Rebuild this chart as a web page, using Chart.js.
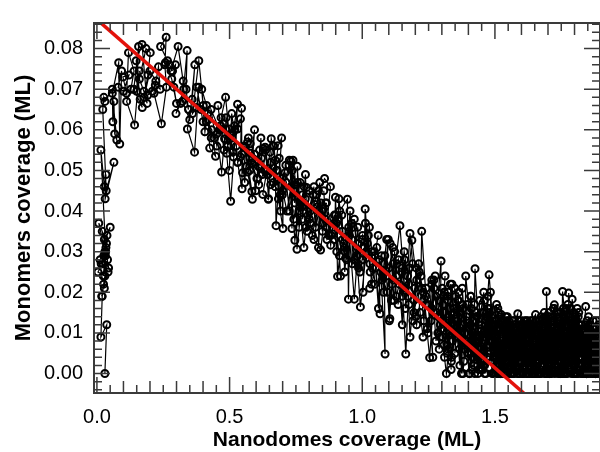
<!DOCTYPE html>
<html><head><meta charset="utf-8">
<script src="https://cdn.jsdelivr.net/npm/chart.js@4.4.1/dist/chart.umd.min.js"></script>
<style>html,body{margin:0;padding:0;background:#fff;overflow:hidden;width:600px;height:452px}canvas{display:block}</style>
</head><body>
<canvas id="c" width="606" height="452"></canvas>
<script>
// Nanodomes coverage (x) and Monomers coverage (y), in ML in segments
const nanoRamp=[0.030,0.037,0.015,0.020,0.025,0.018,0.030,0.004,0.022,0.042,
0.012,0.030,0.007,0.020,0.034,0.026,0.044,0.028,0.050,0.038,
0.024,0.032,0.016,0.036,0.028,0.040,0.033,0.015,0.028,0.034,
0.031,0.064,0.035,0.022,0.026,0.030,0.058,0.060,0.064,0.067];
const monoRamp=[0.000,0.012,0.009,0.019,0.022,0.019,0.024,0.025,0.027,0.025,
0.028,0.030,0.037,0.035,0.031,0.029,0.026,0.033,0.036,0.034,
0.024,0.029,0.027,0.032,0.021,0.028,0.030,0.055,0.046,0.049,
0.043,0.052,0.045,0.065,0.068,0.067,0.070,0.062,0.067,0.059];
const nanoHump=[0.075,0.058,0.082,0.086,0.093,0.080,0.100,0.121,0.098,0.112,
0.119,0.140,0.128,0.112,0.142,0.160,0.150,0.157,0.139,0.171,
0.163,0.148,0.170,0.189,0.177,0.160,0.185,0.201,0.192,0.178,
0.200,0.222,0.209,0.191,0.220,0.238,0.232,0.215,0.243,0.262,
0.256,0.261,0.240,0.266,0.285,0.274,0.258,0.282,0.300,0.290,
0.296,0.279,0.306,0.325,0.316,0.298,0.327,0.345,0.336,0.340,
0.322,0.350,0.369,0.359,0.341,0.368,0.384,0.376,0.360,0.384,
0.401,0.392,0.376,0.400,0.417,0.407,0.395,0.413,0.431,0.420];
const monoHump=[0.0575,0.069,0.0765,0.0565,0.0745,0.0705,0.0695,0.0735,0.073,0.069,
0.079,0.0745,0.070,0.067,0.0612,0.0745,0.0695,0.0805,0.070,0.0655,
0.0675,0.077,0.081,0.0665,0.0695,0.0725,0.080,0.079,0.0735,0.068,
0.0745,0.072,0.0695,0.0685,0.071,0.070,0.0755,0.069,0.0615,0.0705,
0.076,0.0828,0.0805,0.077,0.0745,0.076,0.0765,0.0725,0.0665,0.0705,
0.076,0.0745,0.0805,0.072,0.0665,0.064,0.070,0.065,0.070,0.0795,
0.067,0.0625,0.076,0.0675,0.0602,0.0545,0.0705,0.0655,0.064,0.077,
0.066,0.065,0.0705,0.062,0.064,0.0595,0.070,0.066,0.058,0.0625];
const nanoSlopeA=[0.425,0.447,0.433,0.412,0.442,0.466,0.452,0.430,0.462,0.481,
0.470,0.452,0.478,0.500,0.485,0.468,0.493,0.515,0.500,0.489,
0.504,0.530,0.510,0.492,0.520,0.541,0.530,0.512,0.541,0.545,
0.547,0.530,0.556,0.578,0.564,0.549,0.571,0.594,0.578,0.560,
0.584,0.586,0.568,0.594,0.615,0.603,0.585,0.610,0.632,0.620,
0.627,0.608,0.634,0.655,0.642,0.646,0.625,0.653,0.657,0.680,
0.664,0.645,0.672,0.675,0.696,0.683,0.665,0.691,0.712,0.698,
0.701,0.684,0.709,0.731,0.716,0.700,0.724,0.745,0.731,0.735];
const monoSlopeA=[0.0555,0.0535,0.060,0.062,0.058,0.061,0.056,0.065,0.060,0.0578,
0.0496,0.059,0.0615,0.0578,0.068,0.063,0.056,0.0533,0.0602,0.0542,
0.0424,0.0663,0.058,0.056,0.060,0.0627,0.0602,0.0545,0.0533,0.0653,
0.0455,0.052,0.056,0.0542,0.051,0.0494,0.058,0.054,0.0566,0.0557,
0.0448,0.0429,0.0496,0.052,0.0506,0.048,0.0518,0.0465,0.050,0.053,
0.0554,0.051,0.0557,0.0465,0.049,0.0429,0.0441,0.0545,0.0578,0.050,
0.0561,0.049,0.0525,0.0364,0.058,0.0561,0.047,0.044,0.0513,0.048,
0.0357,0.043,0.0494,0.046,0.040,0.045,0.0513,0.042,0.0523,0.0357];
const nanoSlopeB=[0.739,0.762,0.746,0.725,0.750,0.754,0.775,0.742,0.766,0.790,
0.773,0.756,0.780,0.801,0.788,0.770,0.796,0.818,0.804,0.785,
0.812,0.830,0.820,0.801,0.828,0.850,0.836,0.818,0.843,0.865,
0.851,0.835,0.858,0.880,0.866,0.848,0.874,0.895,0.881,0.862,
0.889,0.910,0.896,0.899,0.903,0.907,0.925,0.914,0.918,0.900,
0.926,0.965,0.934,0.937,0.915,0.944,0.948,0.952,0.935,0.960,
0.963,0.985,0.970,0.950,0.978,1.000,0.986,0.970,0.993,1.015,
1.001,0.984,1.008,1.011,1.030,1.019,1.002,1.027,1.048,1.035];
const monoSlopeB=[0.0525,0.040,0.0328,0.0525,0.0465,0.0306,0.044,0.038,0.047,0.0458,
0.041,0.047,0.031,0.045,0.036,0.042,0.039,0.046,0.037,0.043,
0.034,0.041,0.0417,0.038,0.044,0.035,0.040,0.033,0.0304,0.042,
0.037,0.045,0.048,0.046,0.036,0.040,0.034,0.039,0.0316,0.042,
0.036,0.038,0.033,0.0434,0.037,0.0239,0.035,0.029,0.024,0.039,
0.033,0.036,0.031,0.0284,0.040,0.0429,0.0183,0.034,0.030,0.037,
0.027,0.032,0.0183,0.035,0.029,0.033,0.026,0.038,0.0164,0.030,
0.034,0.027,0.031,0.0405,0.025,0.032,0.028,0.036,0.022,0.030];
const nanoSlopeC=[1.039,1.060,1.047,1.028,1.055,1.077,1.063,1.067,1.045,1.075,
1.092,1.083,1.086,1.070,1.094,1.115,1.101,1.104,1.085,1.112,
1.131,1.120,1.105,1.128,1.150,1.136,1.118,1.142,1.160,1.150,
1.135,1.158,1.176,1.164,1.148,1.172,1.190,1.180,1.162,1.187,
1.205,1.195,1.178,1.202,1.205,1.225,1.213,1.195,1.221,1.224,
1.240,1.232,1.215,1.240,1.262,1.248,1.230,1.254,1.275,1.262,
1.245,1.270,1.290,1.278,1.262,1.286,1.305,1.294,1.297,1.280];
const monoSlopeC=[0.026,0.034,0.029,0.021,0.031,0.024,0.028,0.0147,0.030,0.023,
0.033,0.027,0.0048,0.025,0.020,0.031,0.026,0.0135,0.029,0.022,
0.027,0.018,0.032,0.024,0.019,0.028,0.023,0.0364,0.021,0.026,
0.017,0.030,0.022,0.0048,0.025,0.019,0.027,0.0345,0.016,0.0328,
0.023,0.018,0.026,0.014,0.012,0.021,0.027,0.015,0.024,0.035,
0.019,0.013,0.025,0.017,0.022,0.010,0.020,0.0039,0.024,0.016,
0.011,0.021,0.018,0.008,0.023,0.014,0.019,0.012,0.0277,0.015];
const nanoSlopeD=[1.303,1.322,1.310,1.292,1.317,1.335,1.324,1.308,1.331,1.350,
1.338,1.320,1.345,1.362,1.352,1.336,1.359,1.378,1.366,1.348,
1.373,1.392,1.380,1.362,1.387,1.390,1.408,1.397,1.380,1.403,
1.422,1.410,1.395,1.417,1.435,1.423,1.425,1.440,1.432,1.415,
1.439,1.458,1.446,1.430,1.453,1.470,1.460,1.445,1.467,1.485,
1.473,1.456,1.478,1.495,1.484,1.468,1.490,1.505,1.496,1.480];
const monoSlopeD=[0.009,0.018,0.004,0.014,0.000,0.012,0.020,0.007,0.016,0.011,
0.022,0.005,0.015,0.009,0.019,0.003,0.013,0.017,0.006,0.021,
0.010,0.014,0.000,0.018,0.008,0.024,0.012,0.005,0.016,0.000,
0.011,0.019,0.007,0.013,0.002,0.017,0.0258,0.009,0.014,0.004,
0.012,0.020,0.006,0.015,0.001,0.011,0.018,0.003,0.013,0.008,
0.016,0.002,0.0243,0.010,0.005,0.014,0.000,0.012,0.007,0.015];
const nanoTail=[1.500,1.515,1.495,1.508,1.522,1.504,1.498,1.517,1.510,1.526,
1.513,1.530,1.518,1.503,1.524,1.537,1.521,1.509,1.524,1.540,
1.527,1.515,1.542,1.531,1.520,1.548,1.535,1.524,1.550,1.538,
1.539,1.556,1.533,1.548,1.562,1.545,1.530,1.555,1.549,1.566,
1.552,1.570,1.547,1.561,1.575,1.556,1.543,1.568,1.563,1.580,
1.566,1.552,1.580,1.570,1.558,1.585,1.574,1.562,1.586,1.577,
1.578,1.595,1.572,1.590,1.601,1.584,1.569,1.593,1.588,1.606,
1.591,1.608,1.585,1.599,1.614,1.595,1.582,1.605,1.602,1.618,
1.605,1.590,1.620,1.609,1.596,1.625,1.613,1.600,1.628,1.616,
1.617,1.634,1.610,1.628,1.640,1.623,1.608,1.632,1.627,1.645,
1.630,1.648,1.622,1.641,1.654,1.634,1.621,1.645,1.641,1.658,
1.644,1.630,1.660,1.648,1.636,1.664,1.652,1.639,1.653,1.670,
1.656,1.674,1.650,1.667,1.680,1.662,1.647,1.672,1.666,1.684,
1.669,1.686,1.661,1.679,1.692,1.673,1.660,1.684,1.680,1.697,
1.683,1.668,1.699,1.687,1.674,1.703,1.691,1.678,1.705,1.694,
1.695,1.712,1.688,1.706,1.719,1.701,1.686,1.711,1.705,1.722,
1.708,1.726,1.701,1.718,1.732,1.712,1.699,1.724,1.719,1.736,
1.722,1.707,1.724,1.740,1.713,1.742,1.730,1.716,1.744,1.733,
1.734,1.751,1.727,1.745,1.758,1.740,1.725,1.749,1.744,1.761,
1.747,1.764,1.740,1.758,1.771,1.752,1.755,1.762,1.758,1.775,
1.761,1.746,1.776,1.765,1.752,1.781,1.769,1.755,1.783,1.772,
1.773,1.790,1.766,1.784,1.797,1.779,1.778,1.788,1.783,1.800,
1.786,1.803,1.791,1.797,1.810,1.790,1.777,1.802,1.797,1.814,
1.800,1.785,1.815,1.804,1.791,1.820,1.808,1.794,1.822,1.811,
1.812,1.829,1.805,1.823,1.836,1.818,1.803,1.827,1.822,1.839,
1.825,1.842,1.818,1.836,1.849,1.831,1.816,1.840,1.836,1.852,
1.839,1.824,1.855,1.843,1.830,1.859,1.847,1.833,1.860,1.850,
1.851,1.868,1.844,1.862,1.874,1.857,1.842,1.866,1.861,1.878,
1.864,1.881,1.857,1.875,1.888,1.868,1.855,1.879,1.875,1.891,
1.878,1.862,1.893,1.882,1.869,1.890,1.886,1.872,1.894,1.884];
const monoTail=[0.004,0.011,0.000,0.008,0.014,0.002,0.010,0.006,0.000,0.012,
0.005,0.009,0.001,0.013,0.003,0.007,0.000,0.011,0.0145,0.004,
0.008,0.000,0.012,0.006,0.002,0.010,0.004,0.013,0.000,0.007,
0.003,0.011,0.005,0.000,0.009,0.013,0.001,0.006,0.010,0.000,
0.012,0.004,0.008,0.000,0.011,0.002,0.007,0.013,0.003,0.009,
0.000,0.010,0.005,0.012,0.001,0.008,0.003,0.011,0.0147,0.006,
0.002,0.009,0.000,0.013,0.006,0.004,0.011,0.000,0.008,0.012,
0.005,0.000,0.010,0.003,0.012,0.007,0.001,0.009,0.004,0.013,
0.000,0.008,0.011,0.002,0.006,0.000,0.012,0.005,0.010,0.003,
0.009,0.001,0.013,0.004,0.000,0.011,0.007,0.002,0.012,0.006,
0.000,0.010,0.003,0.008,0.013,0.001,0.006,0.011,0.000,0.009,
0.004,0.012,0.000,0.007,0.002,0.010,0.005,0.013,0.0145,0.001,
0.008,0.000,0.011,0.003,0.0135,0.006,0.000,0.009,0.012,0.004,
0.001,0.010,0.005,0.013,0.000,0.008,0.003,0.011,0.006,0.000,
0.007,0.000,0.012,0.004,0.009,0.001,0.014,0.006,0.000,0.0202,
0.003,0.013,0.008,0.000,0.010,0.005,0.015,0.002,0.009,0.012,
0.000,0.007,0.014,0.004,0.011,0.001,0.009,0.016,0.003,0.010,
0.006,0.000,0.0169,0.008,0.002,0.013,0.005,0.011,0.000,0.015,
0.004,0.012,0.007,0.000,0.014,0.009,0.002,0.000,0.010,0.005,
0.013,0.001,0.008,0.016,0.003,0.011,0.0202,0.0152,0.006,0.012,
0.000,0.009,0.014,0.004,0.011,0.007,0.016,0.002,0.013,0.008,
0.005,0.012,0.010,0.001,0.015,0.006,0.0198,0.000,0.009,0.014,
0.003,0.011,0.0183,0.000,0.016,0.008,0.002,0.013,0.005,0.010,
0.000,0.012,0.006,0.014,0.003,0.009,0.001,0.011,0.007,0.000,
0.010,0.004,0.013,0.000,0.008,0.012,0.002,0.009,0.005,0.011,
0.006,0.000,0.011,0.003,0.009,0.001,0.012,0.007,0.000,0.010,
0.002,0.009,0.005,0.012,0.000,0.008,0.004,0.010,0.001,0.007,
0.011,0.003,0.000,0.009,0.006,0.012,0.002,0.008,0.000,0.010,
0.004,0.011,0.007,0.000,0.009,0.003,0.012,0.005,0.001,0.008,
0.000,0.010,0.006,0.013,0.002,0.009,0.004,0.011,0.000,0.007];
const nanoBack=[1.890,1.882,1.893,1.878,1.885,1.872,1.880,1.870,1.876,1.869,
1.866,1.857,1.868,1.853,1.861,1.849,1.859,1.846,1.855,1.848,
1.847,1.839,1.850,1.835,1.842,1.829,1.837,1.827,1.833,1.826,
1.823,1.814,1.825,1.810,1.818,1.806,1.816,1.803,1.812,1.805,
1.804,1.796,1.807,1.792,1.799,1.786,1.794,1.784,1.790,1.783,
1.780,1.771,1.782,1.767,1.775,1.763,1.773,1.760,1.769,1.762,
1.761,1.753,1.764,1.749,1.756,1.743,1.751,1.741,1.747,1.740,
1.737,1.728,1.739,1.724,1.732,1.720,1.730,1.717,1.726,1.719,
1.718,1.710,1.721,1.706,1.713,1.700,1.708,1.698,1.704,1.697,
1.694,1.685,1.696,1.681,1.689,1.677,1.687,1.674,1.683,1.676,
1.675,1.667,1.678,1.663,1.670,1.657,1.665,1.655,1.661,1.654,
1.651,1.642,1.653,1.638,1.646,1.634,1.644,1.631,1.640,1.633,
1.632,1.624,1.635,1.620,1.627,1.614,1.622,1.612,1.618,1.611,
1.608,1.599,1.610,1.595,1.603,1.591,1.601,1.588,1.597,1.590,
1.589,1.581,1.592,1.577,1.584,1.571,1.579,1.569,1.575,1.568,
1.565,1.556,1.567,1.552,1.560,1.548,1.558,1.545,1.554,1.547,
1.546,1.538,1.549,1.534,1.541,1.528,1.536,1.526,1.532,1.525,
1.522,1.513,1.524,1.509,1.517,1.505,1.515,1.502,1.511,1.504,
1.503,1.495,1.506,1.491,1.498,1.485,1.493,1.483,1.489,1.482,
1.479,1.470,1.481,1.466,1.474,1.462,1.472,1.459,1.468,1.461];
const monoBack=[0.007,0.001,0.012,0.004,0.000,0.010,0.005,0.013,0.002,0.009,
0.000,0.011,0.006,0.014,0.003,0.000,0.012,0.008,0.001,0.010,
0.013,0.005,0.000,0.009,0.0165,0.002,0.011,0.006,0.000,0.012,
0.004,0.014,0.008,0.000,0.010,0.003,0.015,0.006,0.011,0.000,
0.009,0.002,0.013,0.006,0.000,0.016,0.007,0.001,0.012,0.004,
0.014,0.000,0.010,0.005,0.017,0.002,0.009,0.013,0.000,0.007,
0.003,0.012,0.006,0.015,0.000,0.010,0.004,0.014,0.008,0.001,
0.011,0.005,0.000,0.013,0.007,0.016,0.002,0.009,0.000,0.012,
0.006,0.014,0.003,0.010,0.000,0.012,0.007,0.001,0.015,0.004,
0.000,0.009,0.013,0.002,0.011,0.005,0.000,0.014,0.007,0.010,
0.012,0.003,0.008,0.000,0.013,0.006,0.010,0.001,0.012,0.005,
0.002,0.011,0.000,0.009,0.004,0.013,0.000,0.007,0.010,0.003,
0.010,0.000,0.012,0.005,0.008,0.001,0.013,0.004,0.000,0.011,
0.005,0.013,0.002,0.010,0.000,0.008,0.012,0.003,0.011,0.000,
0.009,0.001,0.012,0.006,0.000,0.011,0.004,0.013,0.007,0.002,
0.000,0.010,0.005,0.013,0.002,0.009,0.000,0.012,0.006,0.014,
0.011,0.003,0.009,0.000,0.014,0.006,0.012,0.001,0.010,0.004,
0.007,0.015,0.000,0.011,0.005,0.013,0.002,0.009,0.016,0.000,
0.012,0.004,0.017,0.008,0.000,0.014,0.006,0.020,0.003,0.011,
0.016,0.007,0.013,0.000,0.019,0.009,0.004,0.015,0.010,0.002];
const nanoBackE=[1.458,1.449,1.461,1.444,1.452,1.439,1.447,1.433,1.442,1.436,
1.430,1.421,1.433,1.416,1.424,1.411,1.419,1.405,1.414,1.408,
1.402,1.393,1.405,1.388,1.396,1.383,1.391,1.377,1.386,1.380,
1.374,1.365,1.377,1.360,1.368,1.355,1.363,1.349,1.358,1.352,
1.346,1.337,1.349,1.332,1.340,1.327,1.335,1.321,1.330,1.324,
1.318,1.309,1.321,1.304,1.312,1.299,1.307,1.293,1.302,1.296];
const monoBackE=[0.003,0.012,0.000,0.009,0.015,0.001,0.011,0.005,0.018,0.000,
0.008,0.002,0.014,0.006,0.000,0.016,0.004,0.011,0.001,0.019,
0.005,0.013,0.000,0.010,0.017,0.003,0.008,0.021,0.006,0.012,
0.000,0.015,0.007,0.018,0.002,0.011,0.020,0.005,0.013,0.009,
0.016,0.004,0.012,0.022,0.008,0.014,0.001,0.019,0.010,0.006,
0.013,0.020,0.007,0.017,0.024,0.011,0.015,0.009,0.021,0.014];
const nanoBackF=[1.290,1.278,1.285,1.270,1.259,1.266,1.248,1.240,1.229,1.218,
1.203,1.191,1.197,1.180,1.171,1.176,1.159,1.151,1.140,1.128,
1.122,1.110,1.117,1.102,1.091,1.098,1.080,1.072,1.061,1.050,
1.035,1.023,1.029,1.012,1.003,1.008,0.991,0.983,0.972,0.960,
0.954,0.942,0.949,0.934,0.923,0.930,0.912,0.904,0.893,0.882,
0.867,0.855,0.861,0.844,0.835,0.840,0.823,0.815,0.804,0.792,
0.786,0.774,0.781,0.766,0.755,0.762,0.744,0.736,0.725,0.714,
0.699,0.687,0.693,0.676,0.667,0.672,0.655,0.647,0.636,0.624,
0.618,0.606,0.613,0.598,0.587,0.594,0.576,0.568,0.557,0.546,
0.531,0.519,0.525,0.508,0.499,0.504,0.487,0.479,0.468,0.456];
const monoBackF=[0.006,0.019,0.010,0.023,0.013,0.004,0.017,0.021,0.009,0.015,
0.026,0.013,0.021,0.009,0.024,0.017,0.028,0.012,0.022,0.019,
0.030,0.018,0.027,0.013,0.024,0.033,0.020,0.029,0.016,0.026,
0.022,0.034,0.027,0.037,0.020,0.031,0.025,0.036,0.028,0.033,
0.040,0.028,0.036,0.025,0.039,0.032,0.043,0.030,0.037,0.034,
0.033,0.045,0.038,0.042,0.031,0.047,0.036,0.044,0.040,0.035,
0.049,0.038,0.046,0.041,0.051,0.036,0.045,0.050,0.040,0.047,
0.044,0.053,0.040,0.050,0.056,0.046,0.052,0.043,0.055,0.049,
0.058,0.048,0.055,0.045,0.053,0.060,0.050,0.057,0.047,0.054,
0.052,0.061,0.056,0.064,0.050,0.059,0.063,0.055,0.060,0.066];

// Linear fit (red line) end points
const fitNano=[-0.02,1.65];
const fitMono=[0.0883,-0.0072];

// Axis ticks
const xTickValues=[0,0.5,1.0,1.5];
const xTickLabels=['0.0','0.5','1.0','1.5'];
const yTickValues=[0,0.01,0.02,0.03,0.04,0.05,0.06,0.07,0.08];
const yTickLabels=['0.00','0.01','0.02','0.03','0.04','0.05','0.06','0.07','0.08'];

const nano=[].concat(nanoRamp,nanoHump,nanoSlopeA,nanoSlopeB,nanoSlopeC,nanoSlopeD,nanoTail,nanoBack,nanoBackE,nanoBackF);
const mono=[].concat(monoRamp,monoHump,monoSlopeA,monoSlopeB,monoSlopeC,monoSlopeD,monoTail,monoBack,monoBackE,monoBackF);
const pts=nano.map((x,i)=>({x:x,y:mono[i]}));
const fitPts=fitNano.map((x,i)=>({x:x,y:fitMono[i]}));

const FONT='"Liberation Sans", Arial, Helvetica, sans-serif';

const framePlugin={
  id:'frame',
  afterDraw(chart){
    const {ctx,chartArea:{left,right,top,bottom},scales:{x,y}}=chart;
    ctx.save();
    ctx.strokeStyle='#3a3a3a';
    ctx.lineWidth=1.5;
    ctx.beginPath();
    for(let k=0;k<=40;k++){
      const v=k*0.05; if(v>x.max) break;
      const px=x.getPixelForValue(v);
      const len=(k%10===0)?16:((k%2===0)?12:8);
      ctx.moveTo(px,bottom);ctx.lineTo(px,bottom-len);
      ctx.moveTo(px,top);ctx.lineTo(px,top+len);
    }
    for(let k=-3;k<=45;k++){
      const v=k*0.002; if(v<y.min||v>y.max) continue;
      const py=y.getPixelForValue(v);
      const len=(k%5===0)?16:8;
      ctx.moveTo(left,py);ctx.lineTo(left+len,py);
      ctx.moveTo(right,py);ctx.lineTo(right-len,py);
    }
    ctx.stroke();
    ctx.lineWidth=2;
    ctx.strokeRect(left,top,right-left,bottom-top);
    ctx.restore();
  }
};

new Chart(document.getElementById('c'),{
  type:'scatter',
  data:{datasets:[
    {data:fitPts,showLine:true,borderColor:'#e3120b',borderWidth:3.5,pointRadius:0,order:0,clip:0},
    {data:pts,showLine:true,borderColor:'#000',borderWidth:1.2,pointRadius:3.5,pointBorderWidth:2,
     pointBorderColor:'#000',pointBackgroundColor:'rgba(0,0,0,0)',order:1}
  ]},
  options:{
    responsive:false,animation:false,devicePixelRatio:1,
    layout:{padding:{top:15,right:1,left:0,bottom:0}},
    plugins:{legend:{display:false},tooltip:{enabled:false}},
    scales:{
      x:{type:'linear',min:-0.011,max:1.896,
        grid:{display:false,drawTicks:false},border:{display:false},
        afterBuildTicks:s=>{s.ticks=xTickValues.map(v=>({value:v}));},
        afterFit:s=>{s.height=59;},
        ticks:{padding:12,color:'#000',autoSkip:false,maxRotation:0,
          font:{family:FONT,size:20},callback:(v,i)=>xTickLabels[i]},
        title:{display:true,text:'Nanodomes coverage (ML)',color:'#000',
          font:{family:FONT,size:21,weight:'bold',lineHeight:1.1},padding:{top:0,bottom:0}}
      },
      y:{type:'linear',min:-0.0048,max:0.0863,
        grid:{display:false,drawTicks:false},border:{display:false},
        afterBuildTicks:s=>{s.ticks=yTickValues.map(v=>({value:v}));},
        afterFit:s=>{s.width=94;},
        ticks:{padding:11,color:'#000',autoSkip:false,
          font:{family:FONT,size:20},callback:(v,i)=>yTickLabels[i]},
        title:{display:true,text:'Monomers coverage (ML)',color:'#000',
          font:{family:FONT,size:22,weight:'bold'},padding:{top:11,bottom:0}}
      }
    }
  },
  plugins:[framePlugin]
});
</script>
</body></html>
